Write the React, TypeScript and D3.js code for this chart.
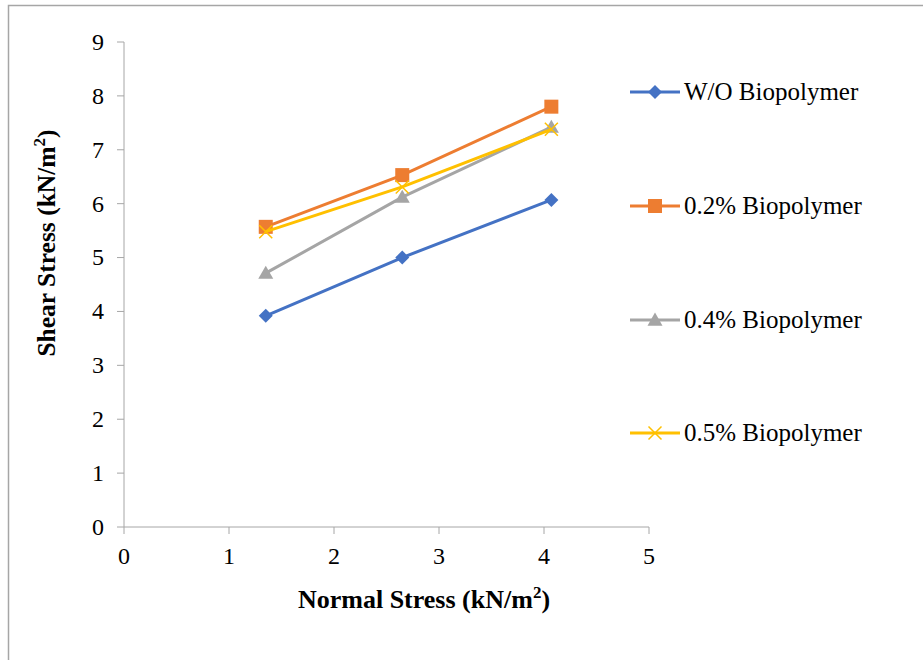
import React from "react";
import * as d3 from "d3";

const normalStress = [1.35, 2.65, 4.07];
const seriesNames = ["W/O Biopolymer", "0.2% Biopolymer", "0.4% Biopolymer", "0.5% Biopolymer"];
const woBiopolymer = [3.92, 5.0, 6.07];
const bio02 = [5.57, 6.53, 7.8];
const bio04 = [4.71, 6.12, 7.42];
const bio05 = [5.48, 6.31, 7.38];
const xTicks = [0, 1, 2, 3, 4, 5];
const yTicks = [0, 1, 2, 3, 4, 5, 6, 7, 8, 9];

const colors = ["#4472C4", "#ED7D31", "#A5A5A5", "#FFC000"];
const markers = ["diamond", "square", "triangle", "x"];
const FONT = '"Liberation Serif", serif';

function Marker({ type, x, y, color }: { type: string; x: number; y: number; color: string }) {
  if (type === "diamond") {
    const r = 7;
    return <path d={`M${x},${y - r}L${x + r},${y}L${x},${y + r}L${x - r},${y}Z`} fill={color} />;
  }
  if (type === "square") {
    const s = 14;
    return <rect x={x - s / 2} y={y - s / 2} width={s} height={s} fill={color} />;
  }
  if (type === "triangle") {
    const r = 7.5;
    return <path d={`M${x},${y - r}L${x + r},${y + r * 0.75}L${x - r},${y + r * 0.75}Z`} fill={color} />;
  }
  const r = 6.5;
  return (
    <path
      d={`M${x - r},${y - r}L${x + r},${y + r}M${x - r},${y + r}L${x + r},${y - r}`}
      stroke={color}
      strokeWidth={1.5}
      fill="none"
    />
  );
}

export default function App() {
  const width = 923;
  const height = 660;
  const x = d3.scaleLinear().domain([0, 5]).range([124, 649]);
  const y = d3.scaleLinear().domain([0, 9]).range([527, 42]);
  const allSeries = [woBiopolymer, bio02, bio04, bio05];
  const line = d3
    .line<[number, number]>()
    .x((d) => x(d[0]))
    .y((d) => y(d[1]));
  const legendY = [92, 206, 320, 433];
  const axisColor = "#a6a6a6";
  const txt = { fontFamily: FONT };

  return (
    <svg
      width={width}
      height={height}
      style={{ position: "absolute", left: 0, top: 0, background: "#fff", fontFamily: FONT }}
    >
      <rect x={0} y={0} width={width} height={height} fill="#fff" />
      {/* frame */}
      <rect x={8.5} y={5.5} width={940} height={700} fill="none" stroke="#a6a6a6" strokeWidth={1.5} />

      {/* axes */}
      <line x1={x(0)} x2={x(5)} y1={y(0)} y2={y(0)} stroke={axisColor} strokeWidth={1} />
      <line x1={x(0)} x2={x(0)} y1={y(0)} y2={y(9)} stroke={axisColor} strokeWidth={1} />
      {yTicks.map((t) => (
        <g key={`y${t}`}>
          <line x1={x(0) - 7} x2={x(0)} y1={y(t)} y2={y(t)} stroke={axisColor} />
          <text x={104} y={y(t)} dy="0.33em" textAnchor="end" fontSize={24} fill="#000" style={txt}>
            {t}
          </text>
        </g>
      ))}
      {xTicks.map((t) => (
        <g key={`x${t}`}>
          <line x1={x(t)} x2={x(t)} y1={y(0)} y2={y(0) + 7} stroke={axisColor} />
          <text x={x(t)} y={564} textAnchor="middle" fontSize={24} fill="#000" style={txt}>
            {t}
          </text>
        </g>
      ))}

      {/* axis titles */}
      <text x={424} y={608} textAnchor="middle" fontSize={26} fontWeight="bold" fill="#000" style={txt}>
        Normal Stress (kN/m
        <tspan fontSize={17} dy={-10}>2</tspan>
        <tspan dy={10}>)</tspan>
      </text>
      <text
        transform="translate(55,243) rotate(-90)"
        textAnchor="middle"
        fontSize={25.5}
        fontWeight="bold"
        fill="#000"
        style={txt}
      >
        Shear Stress (kN/m
        <tspan fontSize={17} dy={-10}>2</tspan>
        <tspan dy={10}>)</tspan>
      </text>

      {/* series */}
      {allSeries.map((vals, i) => {
        const pts: [number, number][] = vals.map((v, j) => [normalStress[j], v]);
        return (
          <g key={seriesNames[i]}>
            <path d={line(pts) || ""} fill="none" stroke={colors[i]} strokeWidth={3} />
            {pts.map((p, j) => (
              <Marker key={j} type={markers[i]} x={x(p[0])} y={y(p[1])} color={colors[i]} />
            ))}
          </g>
        );
      })}

      {/* legend */}
      {seriesNames.map((name, i) => (
        <g key={`leg${i}`}>
          <line x1={630} x2={680} y1={legendY[i]} y2={legendY[i]} stroke={colors[i]} strokeWidth={3} />
          <Marker type={markers[i]} x={655} y={legendY[i]} color={colors[i]} />
          <text x={684} y={legendY[i]} dy="0.33em" fontSize={25} fill="#000" style={txt}>
            {name}
          </text>
        </g>
      ))}
    </svg>
  );
}
